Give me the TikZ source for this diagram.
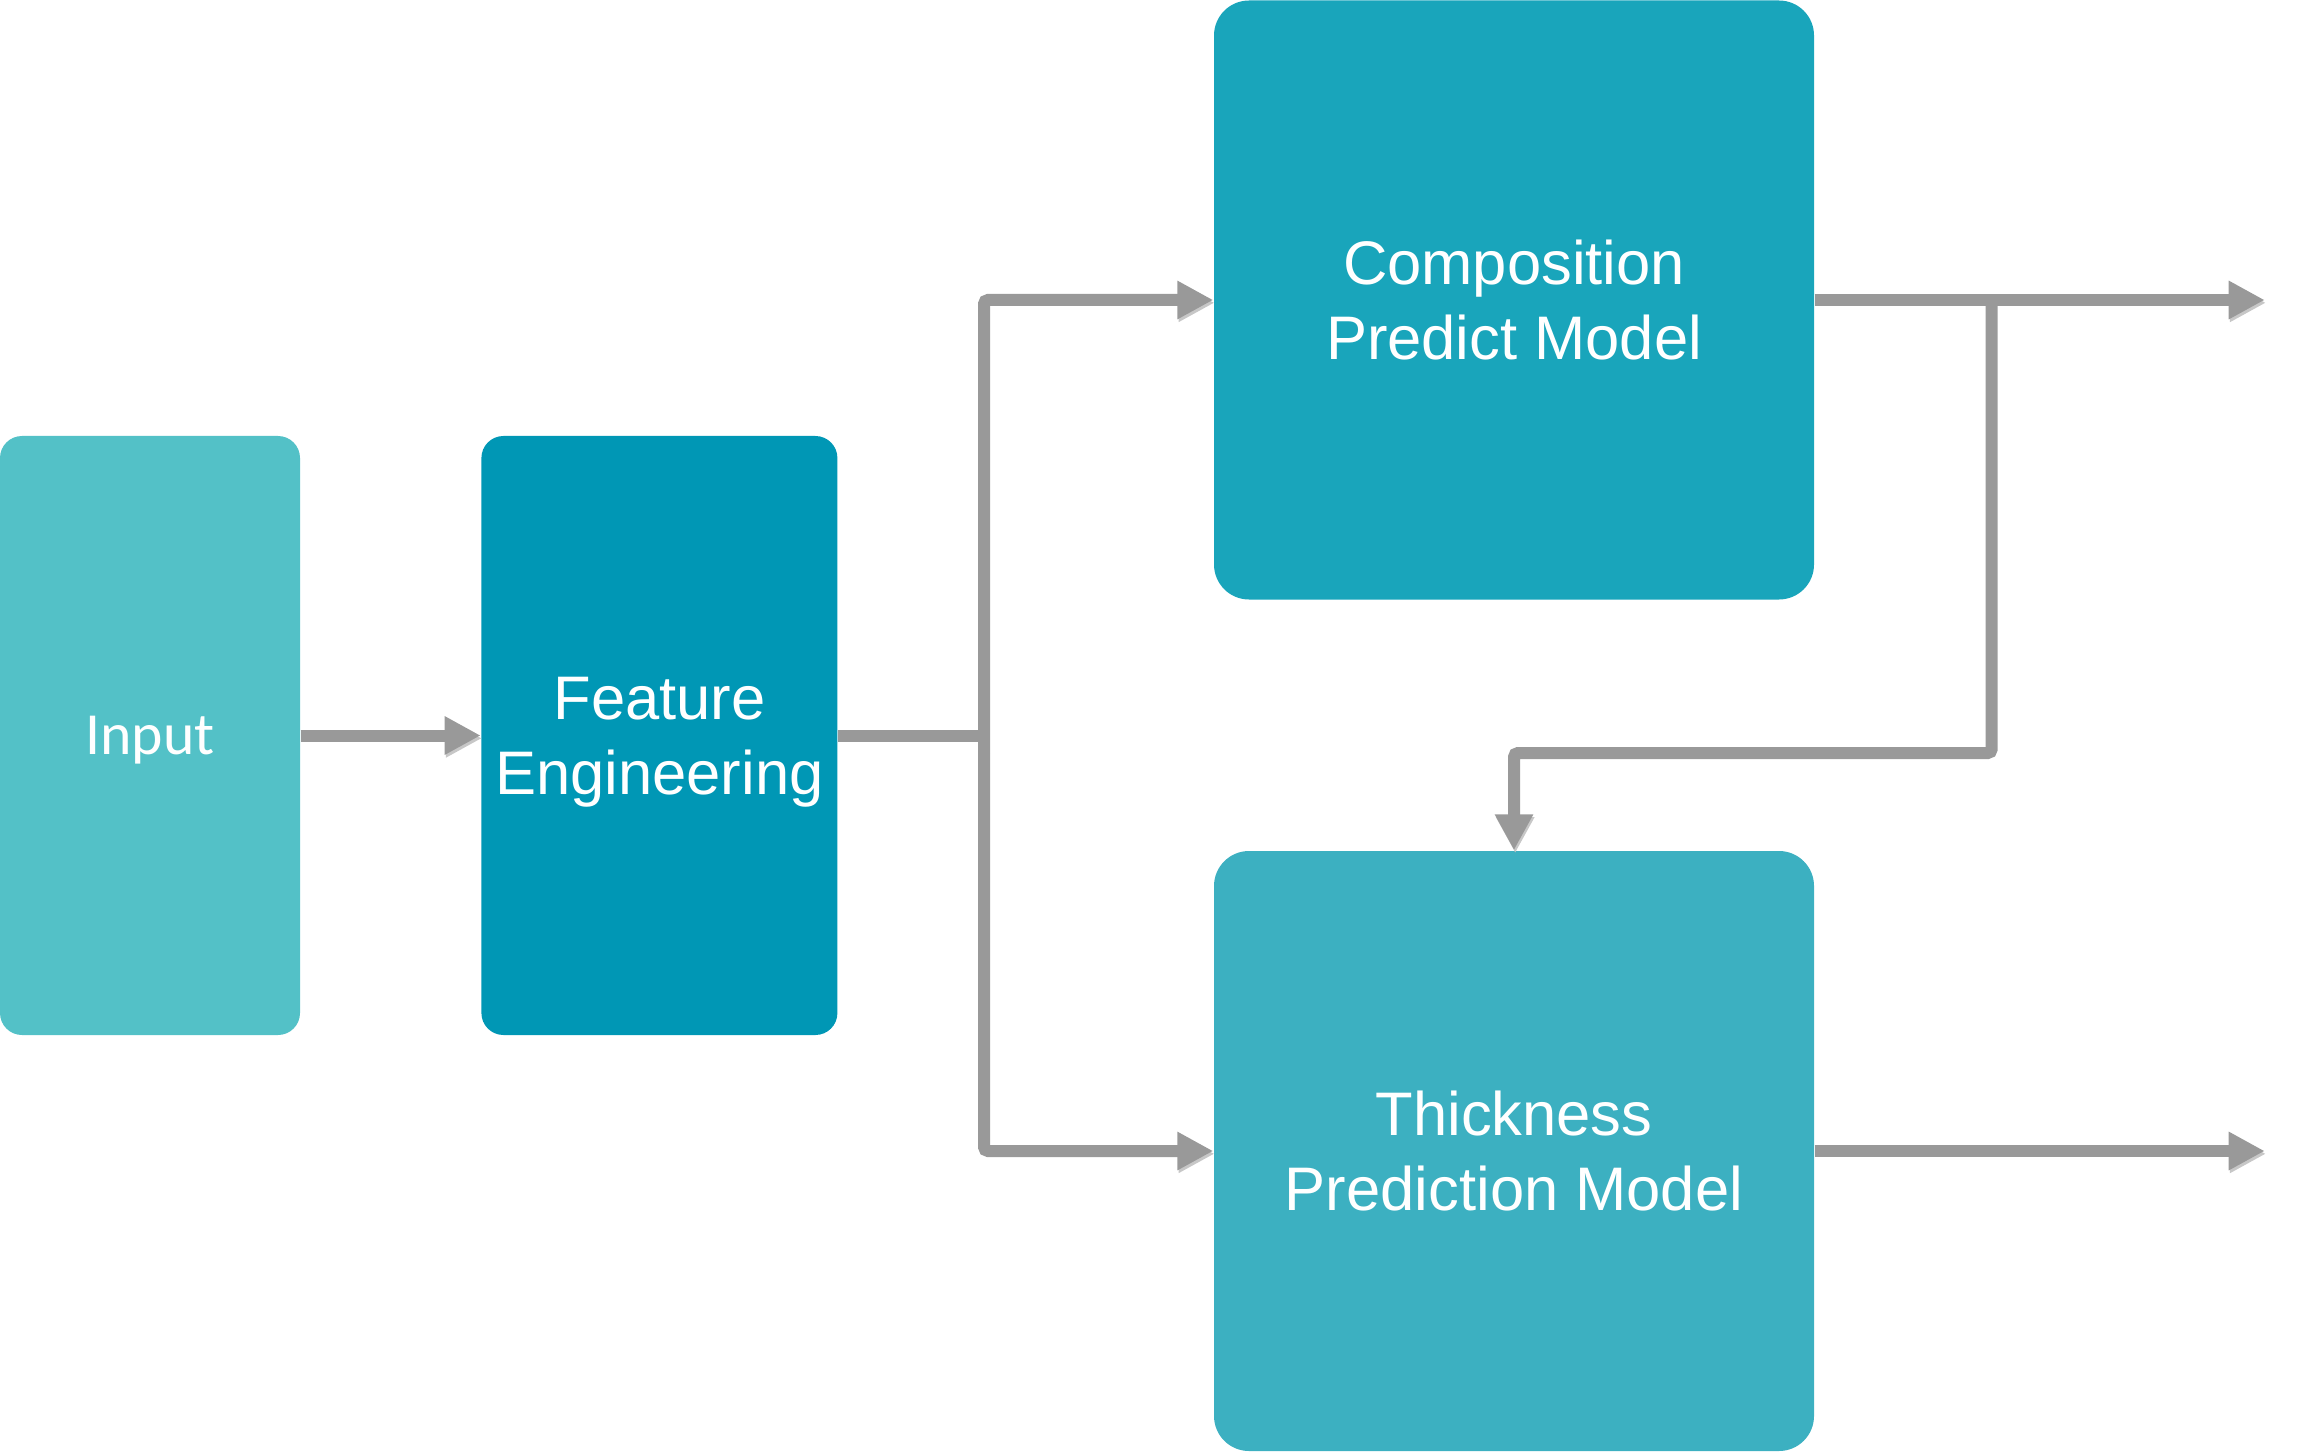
\documentclass[tikz,border=0pt]{standalone}
\usepackage{fontspec}
\setmainfont{Liberation Sans}
\newfontfamily\inputfont{Carlito}
\usetikzlibrary{positioning}
\usetikzlibrary{calc,arrows.meta}
\definecolor{incol}{HTML}{53C1C7}
\definecolor{featcol}{HTML}{0097B5}
\definecolor{compcol}{HTML}{19A5BB}
\definecolor{thickcol}{HTML}{3CB0C1}
\definecolor{wirecol}{HTML}{999999}

\begin{document}
\begin{tikzpicture}[blk/.style={rectangle,rounded corners=0.35cm,text=white,align=center,inner sep=0pt,text depth=0pt,font=\fontsize{17.5pt}{21.3pt}\selectfont},
		wire/.style={preaction={draw=black!22,transform canvas={xshift=0.012cm,yshift=-0.028cm}},draw=wirecol,line width=0.12cm,rounded corners=0.04cm},
		arr/.style={wire,-{Triangle[length=0.36cm,width=0.36cm]}}]
			\useasboundingbox (0,0) rectangle (23.07,14.51);
			\draw (1.5,7.155) node[blk,fill=incol,minimum width=3cm,minimum height=5.99cm,rounded corners=0.22cm,font=\inputfont\fontsize{17pt}{20pt}\selectfont,name=input]{Input};
			\node[blk,fill=featcol,minimum width=3.56cm,minimum height=5.99cm,rounded corners=0.22cm,right=1.8cm of input] (feat) {Feature\\Engineering};
			\draw (15.14,11.51) node[blk,fill=compcol,minimum width=6cm,minimum height=5.99cm,name=comp]{Composition\\Predict Model};
			\draw (15.14,3.0) node[blk,fill=thickcol,minimum width=6cm,minimum height=6cm,name=thick]{Thickness\\Prediction Model};
			\coordinate (split) at (9.84,6.98);
			\coordinate (tap) at ($(comp.east)+(1.77,0)$);
			\coordinate (out1) at ($(comp.east)+(4.5,0)$);
			\coordinate (out2) at ($(thick.east)+(4.5,0)$);
			\draw[arr] (input) -- (feat);
			\draw[wire] (feat.east) -- (feat.east -| split);
			\draw[arr] (split) |- (comp.west);
			\draw[arr] (split) |- (thick.west);
			\draw[arr] (comp.east) -- (out1);
			\draw[arr] (tap) -- (tap |- split) -| (thick.north);
			\draw[arr] (thick.east) -- (out2);
		\end{tikzpicture}
\end{document}
